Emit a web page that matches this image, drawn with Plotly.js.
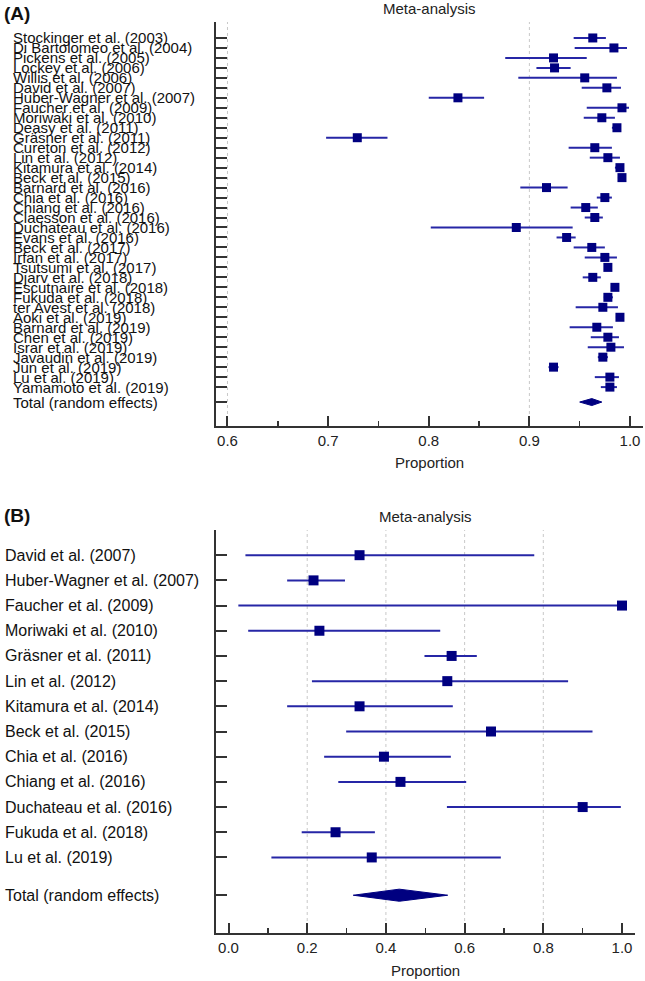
<!DOCTYPE html>
<html>
<head>
<meta charset="utf-8">
<script src="https://cdn.plot.ly/plotly-3.0.1.min.js"></script>
<style>html,body{margin:0;padding:0;background:#fff;}#chart{width:645px;height:981px;}</style>
</head>
<body>
<div id="chart"></div>
<script>
// ---------- Panel A data ----------
const studiesA = ["Stockinger et al. (2003)","Di Bartolomeo et al. (2004)","Pickens et al. (2005)","Lockey et al. (2006)","Willis et al. (2006)","David et al. (2007)","Huber-Wagner et al. (2007)","Faucher et al. (2009)","Moriwaki et al. (2010)","Deasy et al. (2011)","Gräsner et al. (2011)","Cureton et al. (2012)","Lin et al. (2012)","Kitamura et al. (2014)","Beck et al. (2015)","Barnard et al. (2016)","Chia et al. (2016)","Chiang et al. (2016)","Claesson et al. (2016)","Duchateau et al. (2016)","Evans et al. (2016)","Beck et al. (2017)","Irfan et al. (2017)","Tsutsumi et al. (2017)","Djarv et al. (2018)","Escutnaire et al. (2018)","Fukuda et al. (2018)","ter Avest et al. (2018)","Aoki et al. (2019)","Barnard et al. (2019)","Chen et al. (2019)","Israr et al. (2019)","Javaudin et al. (2019)","Jun et al. (2019)","Lu et al. (2019)","Yamamoto et al. (2019)"];
const propA = [0.963,0.984,0.924,0.925,0.955,0.977,0.829,0.992,0.972,0.987,0.729,0.965,0.978,0.990,0.992,0.917,0.975,0.956,0.965,0.887,0.937,0.962,0.975,0.978,0.963,0.985,0.978,0.973,0.990,0.967,0.978,0.981,0.973,0.924,0.980,0.980];
const lowA  = [0.944,0.945,0.876,0.907,0.889,0.952,0.800,0.957,0.954,0.982,0.698,0.939,0.960,0.985,0.988,0.891,0.967,0.941,0.955,0.802,0.927,0.944,0.955,0.975,0.953,0.981,0.974,0.946,0.986,0.940,0.961,0.958,0.968,0.919,0.965,0.971];
const highA = [0.976,0.997,0.957,0.941,0.987,0.991,0.855,0.999,0.985,0.991,0.759,0.982,0.990,0.994,0.996,0.938,0.982,0.968,0.973,0.943,0.946,0.975,0.987,0.982,0.971,0.989,0.983,0.988,0.994,0.983,0.989,0.994,0.978,0.929,0.989,0.987];
const totalA = {label: "Total (random effects)", est: 0.962, low: 0.950, high: 0.972};
const ticksA = [0.6, 0.7, 0.8, 0.9, 1.0];
const gridA = [0.6, 0.9];

// ---------- Panel B data ----------
const studiesB = ["David et al. (2007)","Huber-Wagner et al. (2007)","Faucher et al. (2009)","Moriwaki et al. (2010)","Gräsner et al. (2011)","Lin et al. (2012)","Kitamura et al. (2014)","Beck et al. (2015)","Chia et al. (2016)","Chiang et al. (2016)","Duchateau et al. (2016)","Fukuda et al. (2018)","Lu et al. (2019)"];
const propB = [0.333,0.216,1.000,0.231,0.567,0.556,0.333,0.667,0.395,0.437,0.900,0.272,0.364];
const lowB  = [0.043,0.149,0.025,0.050,0.498,0.212,0.149,0.299,0.243,0.279,0.555,0.186,0.109];
const highB = [0.777,0.296,1.000,0.538,0.631,0.863,0.570,0.925,0.565,0.604,0.997,0.372,0.692];
const totalB = {label: "Total (random effects)", est: 0.434, low: 0.317, high: 0.557};
const ticksB = [0.0, 0.2, 0.4, 0.6, 0.8, 1.0];
const gridB = [0.2, 0.4, 0.6, 0.8];

const FONT = "Arial, 'Liberation Sans', sans-serif";
const CI_COLOR = "#2626a6";
const MK_COLOR = "#000080";
const AX_COLOR = "#333333";

function ciTrace(low, high, xa, ya, w) {
  const x = [], y = [];
  low.forEach((l, i) => { x.push(l, high[i], null); y.push(i, i, null); });
  return {type: "scatter", mode: "lines", x, y, xaxis: xa, yaxis: ya,
          line: {color: CI_COLOR, width: w}, hoverinfo: "skip", showlegend: false};
}
function mkTrace(prop, xa, ya, size) {
  return {type: "scatter", mode: "markers", x: prop, y: prop.map((_, i) => i),
          xaxis: xa, yaxis: ya, marker: {symbol: "square", size: size, color: MK_COLOR, line: {width: 0}},
          showlegend: false};
}
function diamond(t, row, h, xa, ya) {
  return {type: "scatter", mode: "lines", fill: "toself", fillcolor: MK_COLOR,
          x: [t.low, t.est, t.high, t.est, t.low], y: [row, row - h, row, row + h, row],
          xaxis: xa, yaxis: ya, line: {color: MK_COLOR, width: 1}, showlegend: false};
}

const totRowA = studiesA.length + 0.5;
const totRowB = studiesB.length + 0.5;

const data = [
  ciTrace(lowA, highA, "x", "y", 2),
  mkTrace(propA, "x", "y", 9),
  diamond(totalA, totRowA, 0.35, "x", "y"),
  ciTrace(lowB, highB, "x2", "y2", 2),
  mkTrace(propB, "x2", "y2", 10),
  diamond(totalB, totRowB, 0.24, "x2", "y2")
];

const W = 645, H = 981;
const px = v => v / W, py = v => 1 - v / H;

const annotations = [];
studiesA.concat([totalA.label]).forEach((s, i) => {
  annotations.push({text: s, xref: "paper", yref: "y", x: px(11), y: i < studiesA.length ? i : totRowA,
    xanchor: "left", yanchor: "middle", showarrow: false, font: {family: FONT, size: 15, color: "#111"}});
});
studiesB.concat([totalB.label]).forEach((s, i) => {
  annotations.push({text: s, xref: "paper", yref: "y2", x: px(3), y: i < studiesB.length ? i : totRowB,
    xanchor: "left", yanchor: "middle", showarrow: false, font: {family: FONT, size: 16, color: "#111"}});
});
annotations.push(
  {text: "<b>(A)</b>", xref: "paper", yref: "paper", x: px(2), y: py(13), xanchor: "left", yanchor: "middle", showarrow: false, font: {family: FONT, size: 19, color: "#111"}},
  {text: "<b>(B)</b>", xref: "paper", yref: "paper", x: px(2), y: py(515), xanchor: "left", yanchor: "middle", showarrow: false, font: {family: FONT, size: 19, color: "#111"}},
  {text: "Meta-analysis", xref: "paper", yref: "paper", x: px(429.5), y: py(8.5), xanchor: "center", yanchor: "middle", showarrow: false, font: {family: FONT, size: 15, color: "#222"}},
  {text: "Meta-analysis", xref: "paper", yref: "paper", x: px(425.5), y: py(516), xanchor: "center", yanchor: "middle", showarrow: false, font: {family: FONT, size: 15, color: "#222"}},
  {text: "Proportion", xref: "paper", yref: "paper", x: px(429.5), y: py(462), xanchor: "center", yanchor: "middle", showarrow: false, font: {family: FONT, size: 15, color: "#222"}},
  {text: "Proportion", xref: "paper", yref: "paper", x: px(425.5), y: py(970), xanchor: "center", yanchor: "middle", showarrow: false, font: {family: FONT, size: 15, color: "#222"}}
);

const shapes = [];
gridA.forEach(g => shapes.push({type: "line", xref: "x", yref: "y domain", x0: g, x1: g, y0: 0, y1: 1, layer: "below", line: {color: "#c8c8c8", width: 1, dash: "dot"}}));
gridB.forEach(g => shapes.push({type: "line", xref: "x2", yref: "y2 domain", x0: g, x1: g, y0: 0, y1: 1, layer: "below", line: {color: "#c8c8c8", width: 1, dash: "dot"}}));

function xAxis(domain, range, ticks, anchor, minorStep) {
  return {domain, range, anchor, tickmode: "array", tickvals: ticks, ticktext: ticks.map(t => t.toFixed(1)),
    ticks: "inside", ticklen: 10, tickwidth: 2, tickcolor: AX_COLOR, showline: true, linewidth: 2, linecolor: AX_COLOR,
    showgrid: false, zeroline: false, tickfont: {family: FONT, size: 15, color: "#222"}, fixedrange: true,
    minor: {tick0: 0, dtick: minorStep, ticks: "inside", ticklen: 5, tickwidth: 1.5, tickcolor: AX_COLOR}};
}
function yAxis(domain, n, totRow, range, anchor) {
  const tv = [];
  for (let i = 0; i < n; i++) tv.push(i);
  tv.push(totRow);
  return {domain, range, anchor, tickmode: "array", tickvals: tv, showticklabels: false,
    ticks: "inside", ticklen: 11, tickwidth: 2, tickcolor: AX_COLOR, showline: true, linewidth: 2, linecolor: AX_COLOR,
    showgrid: false, zeroline: false, fixedrange: true};
}

const layout = {
  width: W, height: H, margin: {l: 0, r: 0, t: 0, b: 0}, paper_bgcolor: "#fff", plot_bgcolor: "#fff",
  showlegend: false, font: {family: FONT},
  xaxis: xAxis([px(216), px(643)], [0.5886, 1.0129], ticksA, "y", 0.05),
  yaxis: yAxis([py(426), py(22)], studiesA.length, totRowA, [38.9, -1.6], "x"),
  xaxis2: xAxis([px(216), px(635)], [-0.0318, 1.033], ticksB, "y2", 0.1),
  yaxis2: yAxis([py(933), py(530)], studiesB.length, totRowB, [15, -1], "x2"),
  annotations, shapes
};

Plotly.newPlot("chart", data, layout, {displayModeBar: false, staticPlot: true});
</script>
</body>
</html>
